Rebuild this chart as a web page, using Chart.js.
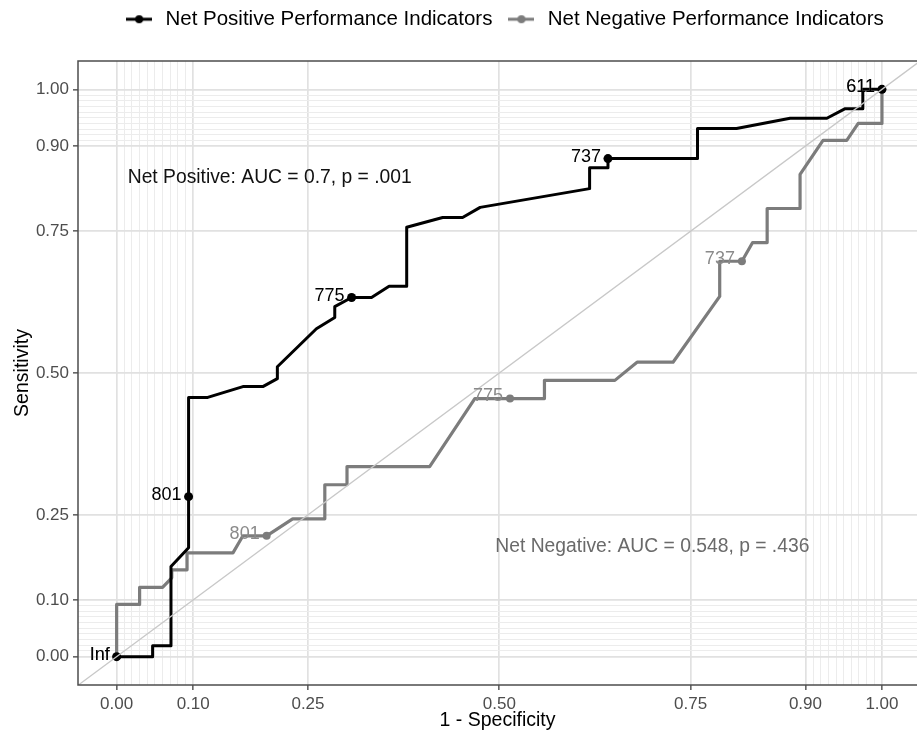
<!DOCTYPE html>
<html>
<head>
<meta charset="utf-8">
<script src="https://cdn.jsdelivr.net/npm/chart.js@4"></script>
<style>
  html, body { margin: 0; padding: 0; background: #fff; }
</style>
</head>
<body>
<canvas id="roc" width="917" height="735"></canvas>
<script>
// ROC points (1 - specificity, sensitivity)
const posFpr = [0, 0.047, 0.047, 0.071, 0.071, 0.094, 0.094, 0.119, 0.165, 0.191,
  0.210, 0.210, 0.261, 0.285, 0.285, 0.307, 0.333, 0.356, 0.379, 0.379,
  0.426, 0.452, 0.475, 0.618, 0.618, 0.642, 0.642, 0.759, 0.759, 0.810,
  0.880, 0.928, 0.952, 0.975, 0.975, 1.0];
const posTpr = [0, 0, 0.019, 0.019, 0.159, 0.192, 0.457, 0.457, 0.476, 0.476,
  0.490, 0.511, 0.578, 0.598, 0.617, 0.633, 0.633, 0.653, 0.653, 0.757,
  0.774, 0.774, 0.792, 0.825, 0.862, 0.862, 0.878, 0.878, 0.931, 0.931,
  0.949, 0.949, 0.966, 0.966, 1.0, 1.0];

const negFpr = [0, 0, 0.030, 0.030, 0.060, 0.072, 0.072, 0.092, 0.092, 0.152,
  0.165, 0.196, 0.230, 0.272, 0.272, 0.301, 0.301, 0.409, 0.468, 0.514,
  0.559, 0.559, 0.651, 0.680, 0.727, 0.788, 0.788, 0.817, 0.831, 0.850,
  0.850, 0.893, 0.893, 0.923, 0.954, 0.969, 1.0, 1.0];
const negTpr = [0, 0.092, 0.092, 0.122, 0.122, 0.139, 0.153, 0.153, 0.183, 0.183,
  0.213, 0.213, 0.243, 0.243, 0.303, 0.303, 0.335, 0.335, 0.455, 0.455,
  0.455, 0.487, 0.487, 0.519, 0.519, 0.635, 0.697, 0.697, 0.730, 0.730,
  0.790, 0.790, 0.850, 0.910, 0.910, 0.940, 0.940, 1.0];

// labelled cutoffs
const cutLabels = ["Inf", "801", "775", "737", "611"];
const posCutFpr = [0, 0.094, 0.307, 0.642, 1.0];
const posCutTpr = [0, 0.282, 0.633, 0.878, 1.0];
const negCutFpr = [0, 0.196, 0.514, 0.817, 1.0];
const negCutTpr = [0, 0.213, 0.455, 0.697, 1.0];

const seriesNames = ["Net Positive Performance Indicators", "Net Negative Performance Indicators"];
const seriesColors = ["#000000", "#7c7c7c"];
const labelColors = ["#000000", "#8a8a8a"];

const aucText = ["Net Positive: AUC = 0.7, p = .001", "Net Negative: AUC = 0.548, p = .436"];
const aucX = [0.2, 0.7];
const aucY = [0.85, 0.2];

const majorBreaks = [0, 0.1, 0.25, 0.5, 0.75, 0.9, 1];
const minorBreaks = [0.01, 0.02, 0.03, 0.04, 0.05, 0.06, 0.07, 0.08, 0.09,
  0.91, 0.92, 0.93, 0.94, 0.95, 0.96, 0.97, 0.98, 0.99];
const diagLimits = [-0.1, 1.1];

const FONT = "'Liberation Sans', Arial, sans-serif";
const allBreaks = majorBreaks.concat(minorBreaks).sort((a, b) => a - b);
const isMajor = v => majorBreaks.includes(v);

function toPoints(xs, ys) {
  return xs.map((x, i) => ({ x: x, y: ys[i] }));
}

function makeKey(color) {
  const c = document.createElement("canvas");
  c.width = 26;
  c.height = 12;
  const g = c.getContext("2d");
  g.strokeStyle = color;
  g.lineWidth = 3;
  g.beginPath();
  g.moveTo(0, 6);
  g.lineTo(26, 6);
  g.stroke();
  g.fillStyle = color;
  g.beginPath();
  g.arc(13, 6, 4, 0, Math.PI * 2);
  g.fill();
  return c;
}

function axisOptions(title, fit) {
  return {
    type: "linear",
    afterBuildTicks: axis => { axis.ticks = allBreaks.map(v => ({ value: v })); },
    afterFit: fit,
    ticks: {
      autoSkip: false,
      maxRotation: 0,
      padding: 4,
      color: "#4d4d4d",
      font: { family: FONT, size: 17 },
      callback: v => isMajor(v) ? v.toFixed(2) : ""
    },
    grid: {
      color: ctx => isMajor(ctx.tick.value) ? "#e1e1e1" : "#ececec",
      lineWidth: ctx => isMajor(ctx.tick.value) ? 1.7 : 1,
      tickColor: ctx => isMajor(ctx.tick.value) ? "#4d4d4d" : "rgba(0,0,0,0)",
      tickWidth: 1.4,
      tickLength: 5
    },
    border: { display: false },
    title: {
      display: true,
      text: title,
      color: "#000",
      font: { family: FONT, size: 19.5 }
    }
  };
}

const xAxis = axisOptions("1 - Specificity", s => { s.height = 50; });
xAxis.min = -0.0505;
xAxis.max = 1.0458;
xAxis.title.padding = { top: 0, bottom: 3 };

const yAxis = axisOptions("Sensitivity", s => { s.width = 78; });
yAxis.min = -0.05;
yAxis.max = 1.05;
yAxis.title.padding = { top: 11, bottom: 0 };

// legend height fixed so the panel starts where it does in the picture
const legendHeight = {
  id: "legendHeight",
  beforeInit(chart) {
    const fit = chart.legend.fit;
    chart.legend.fit = function () {
      fit.call(this);
      this.height = 61;
    };
  },
  afterLayout(chart) {
    const lg = chart.legend;
    lg.left += 6;
    lg.right += 6;
    lg.top -= 4;
  }
};

const panelBorder = {
  id: "panelBorder",
  afterDatasetsDraw(chart) {
    const { ctx, chartArea: a } = chart;
    ctx.save();
    ctx.strokeStyle = "#4d4d4d";
    ctx.lineWidth = 1.5;
    ctx.beginPath();
    ctx.moveTo(a.right + 2, a.top);
    ctx.lineTo(a.left, a.top);
    ctx.lineTo(a.left, a.bottom);
    ctx.lineTo(a.right + 2, a.bottom);
    ctx.stroke();
    ctx.restore();
  }
};

const textLayer = {
  id: "textLayer",
  afterDatasetsDraw(chart) {
    const { ctx, scales } = chart;
    const xs = scales.x, ys = scales.y;
    ctx.save();
    ctx.font = "18px " + FONT;
    ctx.textAlign = "right";
    ctx.textBaseline = "middle";
    [[negCutFpr, negCutTpr, 1], [posCutFpr, posCutTpr, 0]].forEach(([fx, ty, s]) => {
      ctx.fillStyle = labelColors[s];
      cutLabels.forEach((lab, i) => {
        ctx.fillText(lab, xs.getPixelForValue(fx[i]) - 7, ys.getPixelForValue(ty[i]) - 2);
      });
    });
    ctx.font = "19.3px " + FONT;
    ctx.textAlign = "center";
    aucText.forEach((t, i) => {
      ctx.fillStyle = i === 0 ? "#111" : "#6a6a6a";
      ctx.fillText(t, xs.getPixelForValue(aucX[i]), ys.getPixelForValue(aucY[i]) + 3);
    });
    ctx.restore();
  }
};

const lineStyle = {
  showLine: true,
  borderWidth: 3,
  pointRadius: 0,
  tension: 0,
  fill: false,
  borderCapStyle: "butt",
  borderJoinStyle: "round"
};

new Chart(document.getElementById("roc"), {
  type: "scatter",
  data: {
    datasets: [
      Object.assign({}, lineStyle, {
        label: seriesNames[0],
        data: toPoints(posFpr, posTpr),
        borderColor: seriesColors[0],
        order: 2
      }),
      Object.assign({}, lineStyle, {
        label: seriesNames[1],
        data: toPoints(negFpr, negTpr),
        borderColor: seriesColors[1],
        borderWidth: 3.2,
        order: 4
      }),
      {
        label: "pos cutoffs",
        data: toPoints(posCutFpr, posCutTpr),
        pointRadius: 4.5,
        pointBackgroundColor: seriesColors[0],
        pointBorderWidth: 0,
        order: 1
      },
      {
        label: "neg cutoffs",
        data: toPoints(negCutFpr, negCutTpr),
        pointRadius: 4,
        pointBackgroundColor: seriesColors[1],
        pointBorderWidth: 0,
        order: 3
      },
      {
        label: "reference",
        data: toPoints(diagLimits, diagLimits),
        showLine: true,
        borderColor: "#c8c8c8",
        borderWidth: 1.3,
        pointRadius: 0,
        clip: 0,
        order: 0
      }
    ]
  },
  options: {
    responsive: false,
    animation: false,
    events: [],
    layout: { padding: 0, autoPadding: false },
    scales: { x: xAxis, y: yAxis },
    plugins: {
      tooltip: { enabled: false },
      legend: {
        position: "top",
        fullSize: false,
        labels: {
          usePointStyle: true,
          pointStyleWidth: 32,
          padding: 13,
          color: "#000",
          font: { family: FONT, size: 20.5 },
          generateLabels: () => seriesNames.map((name, i) => ({
            text: name,
            fillStyle: seriesColors[i],
            strokeStyle: seriesColors[i],
            lineWidth: 0,
            pointStyle: makeKey(seriesColors[i]),
            fontColor: "#000",
            hidden: false,
            datasetIndex: i
          }))
        }
      }
    }
  },
  plugins: [legendHeight, panelBorder, textLayer]
});
</script>
</body>
</html>
